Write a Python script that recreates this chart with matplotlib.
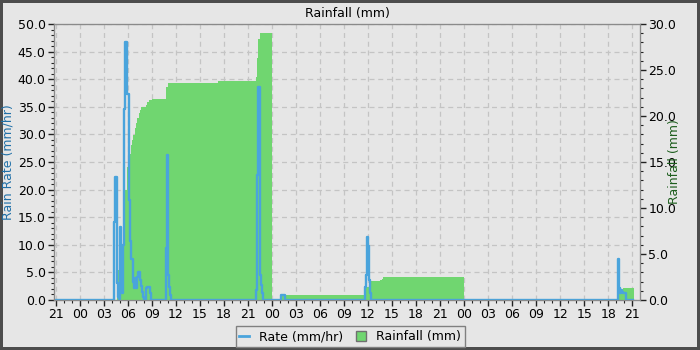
import matplotlib
matplotlib.use("Agg")
import matplotlib.pyplot as plt
from matplotlib.ticker import MultipleLocator, FormatStrFormatter
from matplotlib.lines import Line2D

# hours since the first 21:00 on the axis
rate_t = [0.0, 7.28, 7.40, 7.62, 7.74, 7.90, 8.07, 8.19, 8.31, 8.44, 8.56, 8.69,
          8.94, 9.19, 9.31, 9.44, 9.69, 9.81, 9.94, 10.06, 10.19, 10.31, 10.56,
          10.69, 10.81, 10.94, 11.06, 11.31, 11.44, 11.81, 11.94, 13.77, 13.93,
          14.08, 14.18, 14.27, 14.39, 25.01, 25.13, 25.25, 25.50, 25.63, 25.75,
          25.88, 28.19, 28.69, 38.61, 38.74, 38.86, 38.99, 39.11, 39.24, 39.36,
          70.20, 70.36, 70.51, 70.64, 70.76, 70.89, 71.14, 71.24, 72.05]
rate = [0.0, 14.2, 22.2, 3.0, 0.5, 0.2, 13.3, 10.0, 1.3, 10.0, 34.6, 46.8,
        37.4, 18.1, 10.6, 7.4, 3.3, 2.1, 3.9, 2.1, 4.2, 5.1, 3.6,
        2.6, 1.5, 0.6, 0.0, 2.2, 2.3, 1.2, 0.0, 9.4, 26.3,
        4.5, 2.4, 0.9, 0.0, 1.8, 22.6, 38.5, 4.5, 2.8, 1.3,
        0.0, 0.9, 0.0, 2.4, 4.5, 11.5, 9.7, 3.6, 1.2, 0.0,
        7.4, 2.1, 1.2, 1.9, 1.5, 1.3, 1.2, 0.0, 0.0]

rain_t = [0.0, 7.62, 8.15, 8.46, 8.71, 8.96, 9.11, 9.36, 9.49, 9.61, 9.86, 9.99,
          10.11, 10.36, 10.52, 10.69, 11.27, 11.44, 11.61, 12.02, 13.77, 14.02,
          20.26, 24.98, 25.13, 25.22, 25.51, 27.0, 28.0, 28.25, 28.5, 38.68,
          39.11, 40.49, 40.7, 40.9, 51.0, 70.36, 70.86, 72.2]
rain = [0.0, 3.3, 5.5, 8.0, 12.0, 14.5, 15.9, 16.85, 17.4, 17.9, 18.7, 19.2,
        19.75, 20.3, 20.65, 20.95, 21.2, 21.55, 21.75, 21.9, 23.2, 23.55,
        23.8, 24.2, 26.3, 28.4, 29.0, 0.0, 0.25, 0.4, 0.54, 1.45,
        2.07, 2.2, 2.28, 2.54, 0.0, 0.8, 1.34, 1.34]

hour_labels = ["21", "00", "03", "06", "09", "12", "15", "18"] * 3 + ["21"]

bg = "#e6e6e6"
blue = "#4aa4dc"
green = "#70d670"

fig = plt.figure(figsize=(7, 3.5), dpi=100, facecolor=bg,
                 edgecolor="#4d4d4d", linewidth=4)
ax = fig.add_axes([54/700, 50/350, 586/700, 276/350])
ax.set_facecolor(bg)
ax2 = ax.twinx()
ax3 = ax.twinx()

ax2.fill_between(rain_t, rain, step="post", color=green, linewidth=0)
ax3.plot(rate_t, rate, drawstyle="steps-post", color=blue, lw=1.7)

ax.set_xlim(-0.2, 72.95)
ax.set_ylim(0, 50)
ax2.set_ylim(0, 30)
ax3.set_ylim(0, 50)

ax.set_xticks(range(0, 73, 3))
ax.set_xticklabels(hour_labels)
ax.xaxis.set_minor_locator(MultipleLocator(1))
ax.yaxis.set_major_locator(MultipleLocator(5))
ax.yaxis.set_minor_locator(MultipleLocator(1))
ax.yaxis.set_major_formatter(FormatStrFormatter("%.1f"))
ax2.yaxis.set_major_locator(MultipleLocator(5))
ax2.yaxis.set_minor_locator(MultipleLocator(1))
ax2.yaxis.set_major_formatter(FormatStrFormatter("%.1f"))
ax3.set_yticks([])
ax3.tick_params(right=False, labelright=False)

for a in (ax, ax2):
    a.tick_params(which="major", length=4, width=1, color="#222222",
                  labelsize=9, pad=2)
    a.tick_params(which="minor", length=2.5, width=0.8, color="#222222")
for a in (ax, ax2, ax3):
    for s in a.spines.values():
        s.set_color("#8a8a8a")

ax.grid(True, which="major", color="#c4c4c4", linestyle=(0, (4, 3)), lw=0.9)

ax.set_title("Rainfall (mm)", fontsize=9, pad=5)
ax.set_ylabel("Rain Rate (mm/hr)", fontsize=9, color="#2070a8")
ax.yaxis.set_label_coords(-0.068, 0.5)
ax2.set_ylabel("Rainfall (mm)", fontsize=9, color="#1d5e1d")
ax2.yaxis.set_label_coords(1.048, 0.5)

handles = [Line2D([], [], color=blue, lw=2),
           Line2D([], [], color=green, marker="s", linestyle="none",
                  markersize=6.5, markeredgecolor="#707070", markeredgewidth=1)]
fig.legend(handles, ["Rate (mm/hr)", "Rainfall (mm)"], loc="lower center",
           bbox_to_anchor=(0.5, 0.009), ncol=2, fontsize=9, fancybox=False,
           framealpha=1, facecolor=bg, edgecolor="#808080", borderaxespad=0,
           handlelength=0.8, handletextpad=0.8, columnspacing=1.0,
           borderpad=0.3)

fig.savefig("out.png", dpi=100, facecolor=bg, edgecolor="#4d4d4d")
